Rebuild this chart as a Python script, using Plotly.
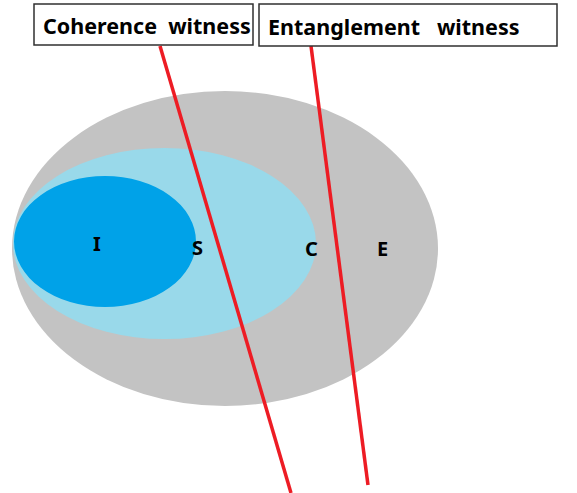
import plotly.graph_objects as go

# Nested sets (outer -> inner): bounding boxes in picture pixels
set_names = ["E", "C", "S", "I"]
set_x0 = [12, 13, 13, 14]
set_x1 = [438, 316, 316, 196]
set_y0 = [91, 148, 148, 176]
set_y1 = [406, 339, 339, 307]
set_colors = ["#C3C3C3", "#99D9EA", "#99D9EA", "#00A2E8"]

# Set labels
label_text = ["I", "S", "C", "E"]
label_x = [97, 197, 311, 382]
label_y = [243, 247, 248, 248]

# Witness lines
witness_names = ["Coherence  witness", "Entanglement   witness"]
line_x = [[160, 291], [311, 368]]
line_y = [[46, 493], [46, 485]]
box_x0 = [34, 259]
box_x1 = [253, 557]
box_y0 = [4, 4]
box_y1 = [45, 46]
box_text_x = [41, 266]

W, H = 577, 493
fig = go.Figure()

shapes = []
for i, n in enumerate(set_names):
    if n == "S":
        continue
    shapes.append(dict(type="circle", xref="x", yref="y",
                       x0=set_x0[i], x1=set_x1[i], y0=set_y0[i], y1=set_y1[i],
                       fillcolor=set_colors[i], line=dict(width=0), layer="below"))

for i in range(len(witness_names)):
    fig.add_trace(go.Scatter(x=line_x[i], y=line_y[i], mode="lines",
                             line=dict(color="#ED1C24", width=3.5),
                             hoverinfo="skip", showlegend=False))
    shapes.append(dict(type="rect", xref="x", yref="y",
                       x0=box_x0[i], x1=box_x1[i], y0=box_y0[i], y1=box_y1[i],
                       fillcolor="white", line=dict(color="#303030", width=1.5),
                       layer="above"))

annotations = []
for t, x, y in zip(label_text, label_x, label_y):
    annotations.append(dict(x=x, y=y, xref="x", yref="y", text="<b>%s</b>" % t,
                            showarrow=False, font=dict(family="Noto Sans", size=20, color="black")))
for i, t in enumerate(witness_names):
    annotations.append(dict(x=box_text_x[i], y=(box_y0[i] + box_y1[i]) / 2 + 1, xref="x", yref="y",
                            text="<b>%s</b>" % t.replace(" ", "&nbsp;"), xanchor="left",
                            showarrow=False, font=dict(family="Noto Sans", size=21.5, color="black")))

fig.update_layout(
    width=W, height=H, margin=dict(l=0, r=0, t=0, b=0),
    paper_bgcolor="white", plot_bgcolor="white",
    xaxis=dict(range=[0, W], visible=False, fixedrange=True),
    yaxis=dict(range=[H, 0], visible=False, fixedrange=True),
    shapes=shapes, annotations=annotations, showlegend=False,
)
fig.write_html("out.html", config={"displayModeBar": False},
               post_script="document.body.style.margin='0';document.body.style.overflow='hidden';")
